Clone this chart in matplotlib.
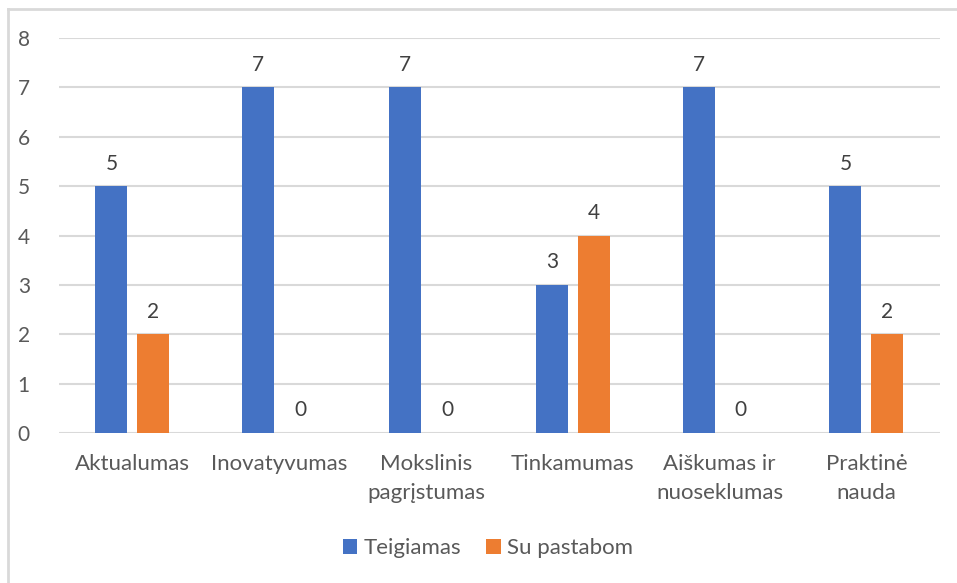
import matplotlib
matplotlib.use("Agg")
import matplotlib.pyplot as plt
import numpy as np

categories = ["Aktualumas", "Inovatyvumas", "Mokslinis\npagrįstumas", "Tinkamumas",
              "Aiškumas ir\nnuoseklumas", "Praktinė\nnauda"]
teigiamas = [5, 7, 7, 3, 7, 5]
su_pastabom = [2, 0, 0, 4, 0, 2]
series_names = ["Teigiamas", "Su pastabom"]
y_ticks = [0, 1, 2, 3, 4, 5, 6, 7, 8]

BLUE = "#4472C4"
ORANGE = "#ED7D31"
TEXT = "#595959"
GRID = "#D9D9D9"

plt.rcParams["font.family"] = ["Lato", "DejaVu Sans"]

fig = plt.figure(figsize=(9.57, 5.83), dpi=100)
ax = fig.add_axes([0.0617, 0.2573, 0.9203, 0.6775])

x = np.arange(len(categories))
w = 0.218
gap = 0.068
off = (w + gap) / 2

b1 = ax.bar(x - off, teigiamas, w, color=BLUE, label=series_names[0], zorder=3)
b2 = ax.bar(x + off, su_pastabom, w, color=ORANGE, label=series_names[1], zorder=3)

for bars in (b1, b2):
    for rect in bars:
        h = rect.get_height()
        ax.annotate(f"{int(h)}", (rect.get_x() + rect.get_width() / 2, h),
                    xytext=(0, 9), textcoords="offset points",
                    ha="center", va="bottom", fontsize=15, color="#404040")

ax.set_xlim(-0.5, len(categories) - 0.5)
ax.set_ylim(0, 8)
ax.set_yticks(y_ticks)
ax.set_xticks(x)
ax.set_xticklabels(categories, fontsize=16, color=TEXT, linespacing=1.6)
ax.tick_params(axis="y", labelsize=15, labelcolor=TEXT, length=0, pad=21)
ax.tick_params(axis="x", length=0, pad=15)
ax.grid(axis="y", color=GRID, linewidth=1.5, zorder=0)
for s in ax.spines.values():
    s.set_visible(False)

fig.legend(handles=[b1, b2], labels=series_names, loc="center",
           bbox_to_anchor=(0.51, 0.06), ncol=2, frameon=False,
           fontsize=16, labelcolor=TEXT, handlelength=0.65, handleheight=0.65,
           handletextpad=0.3, columnspacing=1.1)

# outer chart frame (top and left edges)
fig.add_artist(plt.Line2D([8 / 957, 1.0], [1 - 9 / 583, 1 - 9 / 583],
                          transform=fig.transFigure, color="#D9D9D9", linewidth=2))
fig.add_artist(plt.Line2D([8 / 957, 8 / 957], [0.0, 1 - 9 / 583],
                          transform=fig.transFigure, color="#D9D9D9", linewidth=2))

fig.savefig("out.png", dpi=100)
